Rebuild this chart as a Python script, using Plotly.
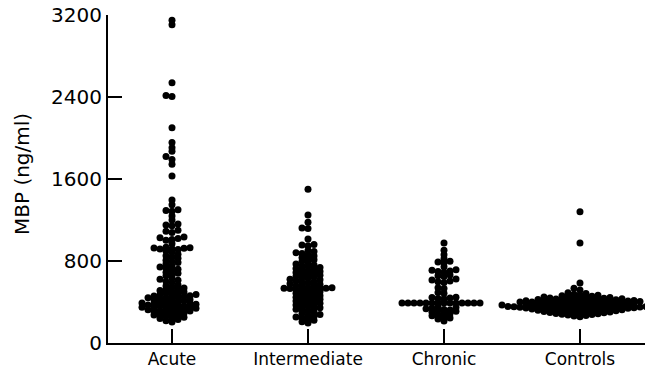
import numpy as np
import plotly.graph_objects as go

categories = ["Acute", "Intermediate", "Chronic", "Controls"]

acute = [3150, 3105, 2540, 2415, 2405, 2100, 1955, 1905, 1870, 1820, 1790, 1745, 1630,
         1395, 1350, 1300, 1292, 1285, 1238, 1200, 1160, 1152, 1145, 1100, 1090, 1078, 1035,
         1026, 1019, 1010, 1002, 968, 934, 930, 927, 924, 920, 917, 913,
         897, 885, 866, 851, 840, 826, 808, 795, 786, 772, 752, 741, 731, 720,
         709, 690, 680, 668, 655, 633, 622, 611, 600, 590, 566, 555, 546, 537,
         528, 520, 512, 505,
         497, 489, 483, 474, 472, 466, 460, 458, 453, 449, 441, 440, 434,
         429, 423, 420, 411, 407, 404, 399, 393, 390, 384, 381, 378,
         372, 370, 369, 363, 361, 357, 350, 347, 344, 340, 336, 331, 328, 324, 320,
         316, 311, 307, 301, 296, 290, 283, 279, 272, 265, 259, 251, 246, 238, 229, 217, 204]

intermediate = [1500, 1250, 1178, 1122, 1116, 1015, 962, 955, 948,
                903, 893, 881, 872, 859, 849, 835, 823, 811, 797, 785, 770,
                761, 752, 746, 736, 728, 721, 713, 704, 698, 689, 683, 675, 666, 661, 652,
                646, 637, 631, 621, 616, 607, 601, 592, 587, 578, 573, 565, 560,
                553, 545, 539, 537, 535, 534, 532, 529, 523, 516, 507, 501, 492, 485, 476, 470,
                461, 455, 447, 441, 432, 426,
                418, 409, 403, 393, 387, 377, 371, 361, 355, 345, 339, 329, 323, 314,
                302,
                287, 278, 270, 262, 253, 244, 234, 222, 208, 196]

chronic = [975, 905, 860, 822, 797, 790, 784, 745, 715, 709, 702, 697, 690, 664, 657, 650,
           624, 615, 605, 598, 590, 540, 531, 493, 486, 447, 443, 439, 435, 431,
           390, 390, 390, 390, 390, 390, 390, 390, 390, 390, 390, 390, 390, 390,
           351, 346, 340, 334, 328, 322, 316, 309, 301, 293, 285, 276, 266, 256, 245, 234, 215]

controls = [1280, 975, 585, 535, 517,
            490, 482, 476, 470, 465, 461, 457, 453, 450, 447, 444, 441, 439, 436, 434, 432,
            429, 427, 425, 423, 421, 419, 417, 415, 413, 412, 410, 409, 407, 406, 404, 403,
            401, 400, 399, 398, 396, 394, 392, 390, 388, 386, 384, 382,
            380, 378, 376, 375, 374, 373, 372, 371, 370,
            368, 366, 364, 362, 360, 359, 358, 357, 356, 355, 354, 353,
            352, 351, 350, 349, 347, 346, 344, 343, 341, 340, 338, 337, 335, 333, 331, 329,
            327, 325, 323, 321, 319, 317, 314, 312, 310, 307, 305, 302, 300, 297, 294, 291,
            288, 285, 281, 277, 273, 268, 263, 256]

groups = [acute, intermediate, chronic, controls]
y_ticks = [0, 800, 1600, 2400, 3200]

# layout geometry (pixels)
W, H = 645, 372
ML, MR, MT, MB = 108, 0, 15, 29
X_RANGE = [-0.4706, 3.478]
Y_RANGE = [0, 3200]
px_per_x = (W - ML - MR) / (X_RANGE[1] - X_RANGE[0])
px_per_y = (H - MT - MB) / (Y_RANGE[1] - Y_RANGE[0])
DX, DY = 6.0, 3.5  # dots closer than DY vertically are set side by side, DX apart


def swarm(vals):
    ys = np.asarray(vals, float) * px_per_y
    order = np.argsort(ys, kind="stable")
    placed = []
    xs = np.zeros(len(ys))
    for i in order:
        y = ys[i]
        iv = [(pxx - DX, pxx + DX) for py, pxx in placed if abs(py - y) < DY]
        cands = [0.0] + [a for a, b in iv] + [b for a, b in iv]
        cands.sort(key=lambda c: (abs(c), c))
        for c in cands:
            if all(not (a + 1e-9 < c < b - 1e-9) for a, b in iv):
                xs[i] = c
                break
        placed.append((y, xs[i]))
    return xs / px_per_x


fig = go.Figure()
for gi, vals in enumerate(groups):
    off = swarm(vals)
    fig.add_trace(go.Scatter(
        x=gi + off, y=vals, mode="markers",
        marker=dict(color="black", size=7, line=dict(width=0)),
        cliponaxis=True, hoverinfo="y", name=categories[gi]))

font = "DejaVu Sans"
fig.update_layout(
    width=W, height=H, margin=dict(l=ML, r=MR, t=MT, b=MB, autoexpand=False),
    plot_bgcolor="white", paper_bgcolor="white", showlegend=False,
    font=dict(family=font, color="black"),
    annotations=[dict(text="MBP (ng/ml)", textangle=-90, xref="paper", yref="paper",
                      x=(22 - ML) / (W - ML - MR), y=(H - MB - 174) / (H - MT - MB),
                      xanchor="center", yanchor="middle", showarrow=False,
                      font=dict(size=20, family=font, color="black"))],
)
fig.update_xaxes(range=X_RANGE, tickvals=[0, 1, 2, 3], ticktext=categories,
                 ticks="inside", ticklen=14, tickwidth=2, tickcolor="black",
                 showline=True, linewidth=2, linecolor="black", automargin=False,
                 showgrid=False, zeroline=False, tickfont=dict(size=17, family=font))
fig.update_yaxes(range=Y_RANGE, tickvals=y_ticks, ticktext=[str(t) for t in y_ticks],
                 ticks="inside", ticklen=14, tickwidth=2, tickcolor="black",
                 showline=True, linewidth=2, linecolor="black", automargin=False,
                 showgrid=False, zeroline=False, tickfont=dict(size=20, family=font))

fig.write_html("out.html", config={"displayModeBar": False},
               post_script="document.body.style.margin='0';document.body.style.overflow='hidden';")
